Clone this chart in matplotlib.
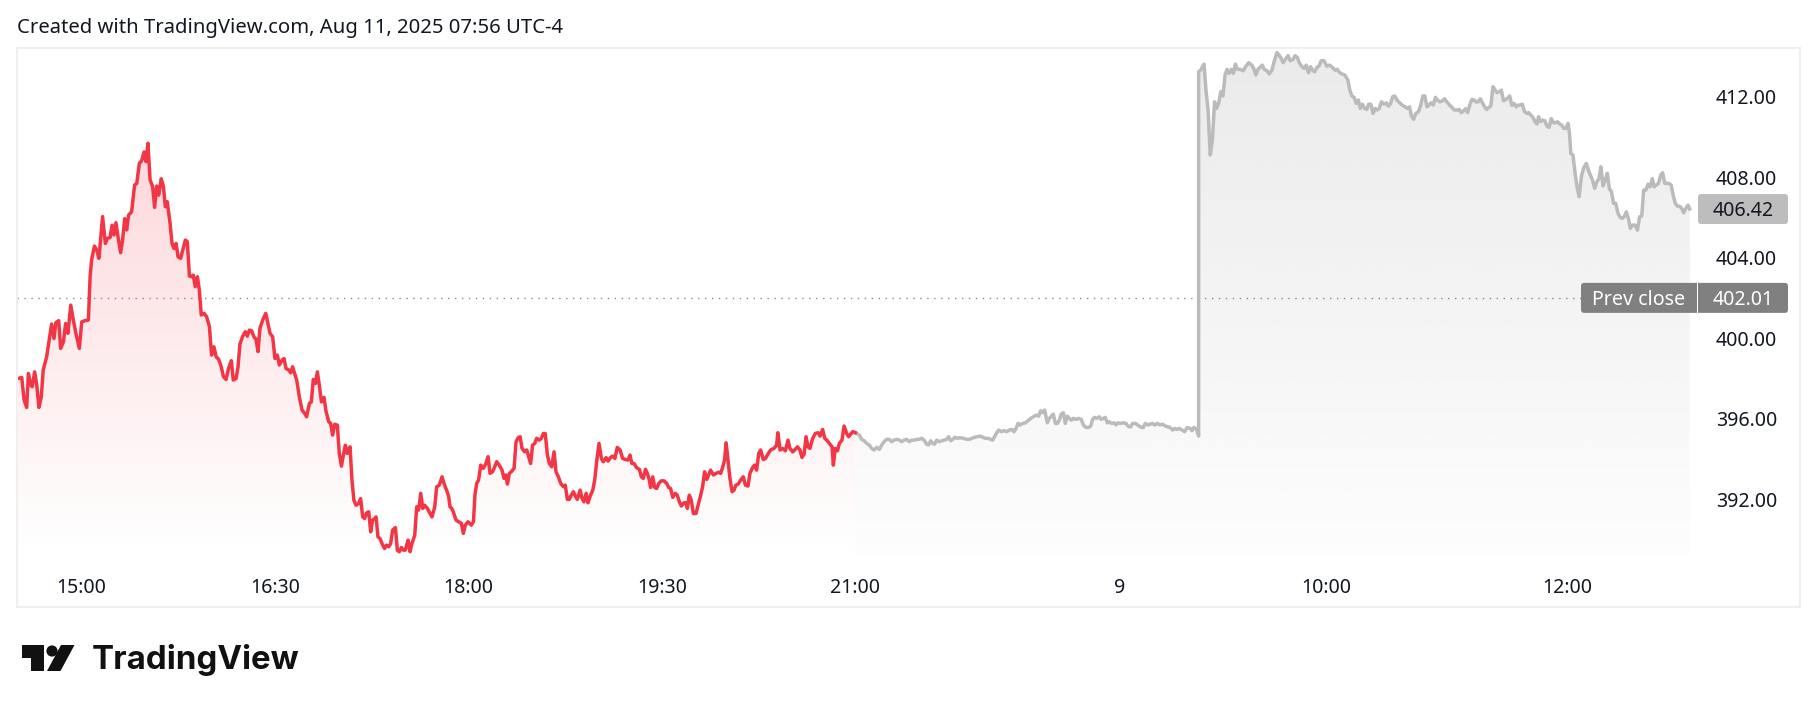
import numpy as np
import matplotlib
matplotlib.use('Agg')
import matplotlib.pyplot as plt
from matplotlib.patches import Rectangle, FancyBboxPatch, Circle, Polygon
from matplotlib.transforms import IdentityTransform

# ---- data (x = bar index, 1 bar ~ 1 minute) ----
red_bar = [
    0.6, 2.2, 3.3, 4.5, 5.3, 6.4, 7.1, 8.2, 9.1, 10.2, 11.3, 12.2, 13.8, 15.0, 16.1, 17.2,
    18.1, 19.4, 20.3, 21.6, 22.6, 23.7, 25.0, 26.2, 27.4, 29.0, 30.1, 31.6, 33.2, 34.0, 34.7,
    36.0, 37.1, 38.1, 39.8, 41.1, 42.0, 43.3, 44.2, 45.1, 46.0, 47.1, 48.2, 49.1, 50.1, 51.0,
    51.9, 53.3, 54.7, 55.7, 56.9, 58.0, 59.1, 60.0, 60.9, 61.9, 63.1, 64.0, 65.0, 65.9, 67.1,
    68.1, 69.0, 69.9, 71.2, 72.1, 73.0, 74.0, 74.9, 76.1, 77.1, 78.3, 79.2, 80.2, 81.2, 82.0,
    82.9, 83.9, 84.8, 85.7, 87.0, 88.2, 89.5, 90.5, 91.6, 92.6, 93.8, 95.0, 96.0, 97.2, 98.4,
    99.7, 100.6, 101.9, 102.8, 103.7, 105.0, 106.2, 107.1, 108.1, 109.1, 110.2, 111.2, 112.1,
    113.0, 114.3, 115.7, 116.7, 117.7, 118.9, 120.0, 121.1, 122.0, 123.3, 124.2, 125.1, 126.4,
    127.3, 128.2, 129.1, 130.1, 131.3, 132.6, 133.8, 134.7, 136.0, 136.9, 137.8, 138.8, 139.7,
    140.6, 141.6, 142.8, 143.7, 145.0, 145.9, 146.8, 147.8, 149.0, 149.9, 150.9, 151.8, 152.7,
    153.6, 154.9, 155.8, 156.7, 157.7, 158.9, 159.8, 160.8, 161.7, 162.6, 163.6, 164.5, 165.4,
    166.4, 167.0, 167.9, 168.8, 170.1, 171.0, 171.9, 172.9, 173.8, 174.7, 176.0, 176.9, 177.8,
    178.8, 179.7, 180.6, 181.9, 182.8, 183.7, 185.0, 185.9, 186.8, 187.8, 188.7, 189.6, 190.9,
    192.1, 193.0, 194.3, 195.2, 196.4, 197.7, 198.6, 199.8, 200.8, 201.4,
    202.2, 202.9, 204.2, 205.4, 206.7, 207.6, 208.5, 209.8, 211.3, 212.3, 213.0, 213.8, 214.7,
    215.7, 216.9, 218.1, 219.1, 220.0, 221.2, 222.2, 223.1, 224.3, 225.6, 226.5, 227.4, 228.1,
    229.0, 229.9, 231.2, 232.1, 233.2, 234.0, 234.9, 236.1, 237.1, 238.0, 238.9, 239.8, 240.8,
    241.7, 242.9, 243.9, 244.8, 245.7, 246.7, 247.6, 248.7, 249.8, 250.7, 251.8, 252.9, 254.1,
    255.0, 256.0, 256.9, 257.8, 258.8, 259.7, 260.6, 261.9, 262.8, 263.7, 264.7, 265.6, 266.5,
    267.8, 268.7, 269.6, 270.7, 271.8, 272.7, 274.0, 274.9, 276.1, 277.1, 278.1, 279.2, 280.5,
    281.7, 283.0, 284.2, 285.1, 286.0, 287.0, 288.2, 289.5, 290.4, 291.3, 292.3, 293.2, 294.1,
    294.7, 295.7, 296.6, 297.5, 298.5, 299.7, 300.9, 302.2, 303.1, 304.0, 305.0, 306.2, 307.1,
    308.1, 309.0, 310.2, 311.2, 311.8, 312.7, 313.6, 314.6, 315.8, 316.8, 318.0, 318.9, 319.8,
    320.8, 321.7, 322.6, 323.9, 325.1, 326.4, 327.3, 328.2, 329.1, 329.8, 330.7, 331.6, 332.6,
    333.5, 334.4, 335.4, 336.6, 337.8, 338.8, 340.0, 340.9, 342.2, 343.1, 344.0, 345.0, 345.9,
    347.1, 348.1, 349.3, 350.5, 352.1, 353.3, 353.9, 354.9, 356.1, 357.4, 358.6, 359.5, 360.8,
    361.7, 363.0, 364.2, 365.1, 366.1, 367.0, 367.9, 368.8, 370.1, 371.3, 372.6, 373.5, 374.7,
    375.7, 376.9, 378.1, 379.1, 379.7, 380.6, 381.6, 382.5, 383.7, 384.7, 385.9, 386.8, 387.8,
    388.7, 389.9]
red_price = [
    398.01, 398.06, 396.94, 396.57, 398.26, 397.68, 397.60, 398.34, 397.76, 396.57, 397.10,
    398.43, 399.09, 399.92, 400.71, 399.99, 400.78, 400.88, 399.50, 399.83, 400.74, 400.25,
    401.65, 400.91, 400.25, 399.50, 400.82, 400.88, 400.91, 403.06, 403.89, 404.58, 404.38,
    403.97, 406.04, 404.71, 404.96, 405.01, 405.62, 405.13, 405.74, 404.96, 404.25, 404.88,
    405.94, 405.38, 406.12, 406.28, 407.61, 407.69, 408.68, 408.82, 409.25, 408.77, 409.68,
    407.86, 407.53, 406.50, 407.56, 407.11, 407.92, 407.53, 406.53, 406.78, 405.70, 404.71,
    404.46, 404.71, 404.05, 403.97, 404.38, 404.88, 404.80, 403.09, 403.06, 403.14, 402.56,
    403.06, 402.40, 401.16, 401.24, 401.07, 400.58, 399.17, 399.58, 399.09, 398.96, 398.59,
    398.10, 397.96, 398.51, 398.89, 397.93, 398.01, 398.59, 399.72, 400.11, 400.33, 400.11,
    400.41, 400.38, 400.08, 399.95, 399.34, 400.50, 400.91, 401.24, 400.74, 400.25, 400.08,
    399.00, 399.17, 398.68, 398.92, 399.00, 398.51, 398.43, 398.29, 398.59, 398.26, 397.93,
    397.10, 396.44, 396.28, 396.11, 396.77, 396.85, 397.96, 397.76, 398.34, 397.68, 396.85,
    397.07, 396.40, 395.86, 395.78, 395.20, 395.74, 395.69, 394.29, 393.66, 394.20, 394.70,
    394.29, 394.62, 392.96, 391.97, 391.72, 391.81, 392.05, 391.14, 391.06, 391.34, 391.39,
    390.40, 390.98, 391.06, 391.14, 390.15, 390.07, 389.74, 389.57, 389.74, 389.66, 389.82,
    390.48, 390.61, 389.49, 389.41, 389.62, 389.49, 389.49, 389.99, 389.41, 389.82, 390.23,
    391.64, 391.48, 392.31, 391.56, 391.72, 391.56, 391.31, 391.14, 391.64, 392.63, 392.72,
    393.13, 392.80, 392.47, 392.14, 391.64,
    391.56, 391.40, 390.98, 390.90, 390.82, 390.32, 390.73, 390.90, 390.73, 390.90, 392.22,
    392.80, 392.97, 393.71, 393.55, 393.79, 394.13, 393.30, 393.38, 393.63, 393.88, 393.71,
    393.46, 393.05, 393.22, 392.77, 393.30, 393.38, 393.55, 394.87, 395.08, 395.12, 394.54,
    394.37, 394.46, 394.13, 393.79, 394.70, 394.79, 395.04, 394.95, 395.04, 395.28, 395.28,
    394.21, 393.79, 393.63, 394.37, 393.38, 393.13, 392.80, 392.64, 392.72, 392.01, 392.01,
    392.22, 392.39, 392.17, 392.01, 392.47, 392.06, 391.89, 392.31, 391.84, 392.14, 392.47,
    392.97, 393.88, 394.79, 394.04, 393.88, 394.08, 393.91, 394.09, 394.16, 394.04, 394.59,
    394.46, 394.04, 393.99, 393.96, 394.21, 393.79, 393.79, 393.58, 393.50, 393.13, 393.05,
    393.50, 393.30, 392.97, 392.60, 393.13, 392.60, 392.55, 392.80, 392.93, 392.93, 392.80,
    392.60, 392.55, 392.11, 392.31, 392.22, 391.89, 391.68, 391.84, 391.84, 391.56, 392.22,
    391.97, 391.31, 391.31, 391.73, 392.22, 392.64, 393.38, 393.00, 393.22, 393.46, 393.22,
    393.30, 393.36, 393.30, 393.60, 393.96, 394.82, 393.96, 393.05, 392.39, 392.47, 392.72,
    392.77, 392.97, 393.13, 392.72, 392.67, 393.30, 393.60, 393.71, 393.46, 394.29, 394.46,
    393.99, 394.04, 394.26, 394.46, 394.54, 394.70, 395.32, 394.46, 394.54, 394.42, 394.95,
    394.54, 394.37, 394.46, 394.62, 394.46, 394.09, 394.26, 395.12, 394.62, 394.54, 395.04,
    395.28, 395.32, 395.15, 395.48, 395.04, 394.92, 394.75, 394.62, 393.71, 394.54, 394.42,
    394.79, 394.95, 395.65, 395.28, 395.12, 395.25, 395.37, 395.32]

gray_bar = [
    389.9, 391.8, 392.9, 394.0, 395.2, 396.4, 397.5, 398.6, 399.9, 401.1, 402.2, 403.3, 404.5,
    405.7, 406.8, 407.9, 409.2, 410.4, 411.5, 412.6, 413.8, 415.0, 416.1, 417.2, 418.5, 419.7,
    420.8, 421.9, 423.1, 424.0, 425.0, 425.9, 426.8, 427.8, 429.0, 430.1, 431.2, 432.4, 433.3,
    434.3, 435.2, 436.3, 437.4, 438.6, 440.2, 441.7, 443.0, 444.2, 445.4, 446.7, 447.9, 449.2,
    450.4, 451.6, 452.9, 453.8, 454.7, 455.7, 456.6, 457.8, 459.1, 460.3, 461.6, 462.8, 463.7,
    464.7, 465.6, 466.5, 467.8, 469.0, 470.2, 471.5, 472.7, 474.0, 475.2, 476.1, 477.1, 478.0,
    478.6, 479.2, 480.2, 481.1, 482.0, 483.0, 483.9, 484.8, 485.7, 486.7, 487.6, 488.5, 489.5,
    490.4, 491.3, 492.6, 493.8, 495.0, 496.0, 497.2, 498.5, 499.4, 500.3, 501.2, 502.2, 503.4,
    504.3, 505.3, 506.2, 507.1, 508.1, 509.0, 510.2, 511.2, 512.1, 513.3, 514.6, 515.8, 517.1,
    518.0, 518.9, 520.2, 521.1, 522.0, 523.0, 523.9, 524.8, 526.1, 527.0, 528.2, 529.2, 530.4,
    531.6, 532.9, 534.1, 535.4, 536.3, 537.5, 538.5, 539.4, 540.6, 541.9, 543.1, 544.3, 545.6,
    546.5, 547.4, 548.7, 549.6,
    549.6, 550.8, 552.1, 553.0, 554.0, 555.0, 556.0, 557.0, 557.9, 558.9, 559.9, 560.9, 561.9,
    562.8, 563.8, 564.8, 565.8, 566.7, 567.7, 569.0, 570.3, 571.6, 572.9, 574.3, 575.2, 576.2,
    577.2, 578.2, 579.2, 580.1, 581.4, 582.4, 583.7, 584.7, 586.0, 587.0, 588.0, 588.9, 590.2,
    591.2, 592.2, 593.5, 594.5, 595.5, 596.4, 597.7, 598.7, 599.7, 600.7, 601.7, 602.6, 603.6,
    604.6, 605.6, 606.6, 607.9, 609.2, 610.5, 611.8, 613.1, 614.1, 615.0, 616.3, 617.6, 619.0,
    619.9, 620.9, 621.9, 622.9, 623.9, 624.8, 625.8, 626.8, 627.8, 628.7, 629.7, 630.7, 631.7,
    632.7, 633.6, 634.6, 635.9, 636.9, 637.9, 638.9, 639.8, 640.8, 641.8, 643.1, 644.4, 645.7,
    646.7, 647.7, 648.6, 649.6, 650.6, 651.9, 652.9, 653.9, 654.8, 655.8, 656.8, 657.8, 658.8,
    659.7, 660.7, 661.7, 663.0, 664.0, 665.0, 666.3, 667.2, 668.5, 669.9, 670.8, 671.8, 672.8,
    673.8, 674.7, 675.7, 676.7, 677.7, 678.7, 679.6, 680.6, 681.6, 682.6, 683.6, 684.5, 685.5,
    686.5, 687.5, 688.4, 689.4, 690.4, 691.4, 692.4, 693.3, 694.3, 695.3, 696.3, 697.3, 698.2,
    699.2, 700.2, 701.2, 702.2, 703.1, 704.1, 705.1, 706.1, 707.0, 707.7, 708.7, 709.7, 710.6,
    711.6, 712.6, 713.6, 714.6, 715.5, 716.5, 717.5, 718.5, 719.4, 720.4, 721.4, 722.1, 722.7,
    723.7, 724.7, 725.6, 726.6, 727.6, 728.6, 729.9, 730.9, 731.8, 732.8, 733.8, 734.8, 735.8,
    736.7, 737.7, 738.7, 739.7, 740.6, 741.6, 742.6, 743.6, 744.6, 745.5, 746.5, 747.5, 748.5,
    749.5, 750.4, 751.4, 752.7, 753.7, 754.7, 755.7, 756.6, 757.6, 758.6, 759.6, 760.6, 761.5,
    762.5, 763.5, 764.5, 765.4, 766.4, 767.4, 768.4, 769.4, 770.3, 771.3, 772.3, 773.3, 774.3,
    775.2, 776.2, 777.2, 778.0]
gray_price = [
    395.32, 395.20, 394.99, 394.92, 394.79, 394.71, 394.54, 394.46, 394.59, 394.49, 394.71,
    394.87, 394.99, 394.99, 394.87, 394.95, 394.99, 394.95, 394.87, 394.95, 394.99, 394.87,
    394.95, 394.95, 394.99, 394.99, 395.04, 394.95, 394.75, 394.71, 394.92, 394.79, 394.75,
    394.95, 394.87, 394.92, 394.95, 394.99, 395.12, 394.92, 394.99, 395.09, 395.04, 395.07,
    395.04, 394.99, 394.99, 395.04, 395.09, 395.12, 395.15, 395.09, 395.04, 395.04, 394.99,
    394.95, 395.12, 395.32, 395.45, 395.37, 395.42, 395.37, 395.45, 395.48, 395.37, 395.53,
    395.78, 395.70, 395.78, 395.81, 395.91, 396.03, 396.11, 396.19, 396.14, 396.41, 396.31,
    396.44, 396.14, 395.81, 396.03, 396.14, 396.24, 395.78, 395.78, 395.94, 396.24, 396.31,
    395.78, 396.14, 396.03, 395.94, 396.03, 395.98, 396.03, 395.98, 395.70, 395.58, 395.58,
    395.65, 395.98, 396.08, 396.03, 396.11, 395.98, 396.03, 396.08, 395.81, 395.86, 395.78,
    395.81, 395.71, 395.81, 395.78, 395.81, 395.78, 395.61, 395.61, 395.78, 395.78, 395.71,
    395.65, 395.58, 395.58, 395.78, 395.70, 395.74, 395.78, 395.70, 395.78, 395.71, 395.74,
    395.65, 395.61, 395.58, 395.45, 395.53, 395.48, 395.53, 395.45, 395.37, 395.58, 395.53,
    395.42, 395.58, 395.48, 395.15,
    413.23, 413.35, 413.61, 412.32, 411.33, 409.10, 409.84, 411.74, 411.41, 411.66, 412.24,
    412.03, 413.07, 413.35, 413.15, 413.35, 413.15, 413.61, 413.35, 413.35, 413.28, 413.51,
    413.68, 413.56, 413.40, 413.07, 413.35, 413.45, 413.56, 413.35, 413.28, 413.12, 413.31,
    413.73, 414.18, 414.06, 413.89, 413.68, 413.89, 414.03, 413.78, 413.84, 414.03, 413.94,
    413.68, 413.48, 413.40, 413.56, 413.18, 413.48, 413.31, 413.23, 413.45, 413.51, 413.78,
    413.78, 413.51, 413.56, 413.45, 413.31, 413.35, 413.21, 413.12, 413.07, 412.82, 412.32,
    412.03, 411.96, 411.66, 411.83, 411.41, 411.62, 411.41, 411.36, 411.62, 411.62, 411.16,
    411.41, 411.33, 411.41, 411.74, 411.62, 411.69, 411.52, 411.66, 411.99, 412.03, 411.83,
    411.69, 411.56, 411.49, 411.41, 411.49, 411.03, 410.87, 411.16, 411.25, 411.58, 412.03,
    412.03, 411.49, 411.58, 411.69, 411.58, 411.96, 411.83, 411.74, 411.79, 411.89, 411.74,
    411.58, 411.49, 411.33, 411.33, 411.36, 411.20, 411.29, 411.40, 411.20, 411.58, 411.86,
    411.83, 411.73, 411.74, 411.89, 411.69, 411.49, 411.36, 411.46, 411.53, 412.49, 412.32,
    412.19, 412.24, 412.32, 411.79, 411.86, 411.91, 412.03, 411.56, 411.66, 411.49, 411.58,
    411.58, 411.62, 411.25, 411.16, 411.20, 411.08, 410.97, 410.75, 410.64, 411.00, 410.75,
    410.83, 410.80, 410.54, 410.47, 410.91, 410.70, 410.70, 410.75, 410.64, 410.58, 410.42,
    410.42, 410.67, 410.17, 409.18, 409.10, 408.19, 407.52, 407.03, 408.02, 408.43, 408.68,
    408.35, 408.10, 407.85, 407.44, 407.77, 407.93, 408.52, 407.56, 407.85, 408.19, 407.44,
    407.28, 406.70, 406.70, 406.23, 406.03, 405.95, 406.03, 406.28, 405.95, 405.46, 405.62,
    405.62, 405.37, 406.03, 406.07, 407.36, 407.36, 407.65, 407.52, 407.93, 407.52, 407.61,
    407.69, 408.10, 408.22, 407.69, 407.69, 407.69, 407.61, 407.11, 406.70, 406.56, 406.56,
    406.45, 406.23, 406.45, 406.61, 406.42]

last_price = 406.42
prev_close = 402.01
price_ticks = [392, 396, 400, 404, 408, 412]
time_ticks = [30, 120, 210, 300, 390, 513, 609, 721]
time_labels = ['15:00', '16:30', '18:00', '19:30', '21:00', '9', '10:00', '12:00']
title_text = 'Created with TradingView.com, Aug 11, 2025 07:56 UTC-4'

W, H = 1818, 713
plt.rcParams['font.family'] = ['Noto Sans', 'DejaVu Sans']
txt_color = '#131722'
fs = 14.1

fig = plt.figure(figsize=(W / 100, H / 100), dpi=100)
fig.patch.set_facecolor('white')

def fx(x):
    return x / W

def fy(y):
    return 1 - y / H

# chart pane (pixel box 17..1697 x 49..556)
ax = fig.add_axes([fx(17), fy(556), (1697 - 17) / W, (556 - 49) / H])
ax.set_facecolor('none')
y_lo, y_hi = 389.2, 414.36
x_lo, x_hi = 0, 781.4


def area_gradient(x, y, rgb, a_top, a_bot):
    poly = ax.fill_between(x, y, y_lo, facecolor='none', edgecolor='none')
    n = 256
    img = np.zeros((n, 1, 4))
    img[:, 0, :3] = rgb
    img[:, 0, 3] = np.linspace(a_top, a_bot, n)
    im = ax.imshow(img, extent=(x[0], x[-1], y_lo, y_hi), origin='upper',
                   aspect='auto', interpolation='bilinear', zorder=1)
    im.set_clip_path(poly.get_paths()[0], transform=ax.transData)


rb, rp = np.array(red_bar), np.array(red_price)
gb, gp = np.array(gray_bar), np.array(gray_price)

area_gradient(rb, rp, (242 / 255, 54 / 255, 69 / 255), 0.24, 0.0)
area_gradient(gb, gp, (0.6, 0.6, 0.6), 0.2, 0.02)

ax.axhline(prev_close, color='#8a8a8a', lw=1.0, ls=(0, (1, 4)), zorder=2)
ax.plot(gb, gp, color='#BBBBBB', lw=2.5, solid_joinstyle='round', zorder=3)
ax.plot(rb, rp, color='#F23645', lw=2.5, solid_joinstyle='round', zorder=4)

ax.set_xlim(x_lo, x_hi)
ax.set_ylim(y_lo, y_hi)

ax.set_xticks(time_ticks)
ax.set_xticklabels(time_labels)
ax.yaxis.tick_right()
ax.set_yticks(price_ticks)
ax.set_yticklabels([f'{v:.2f}' for v in price_ticks])
ax.tick_params(axis='both', length=0, labelsize=fs, labelcolor=txt_color)
ax.tick_params(axis='x', pad=15.5)
ax.tick_params(axis='y', pad=13.5)
ax.get_xticklabels()[5].set_fontweight('bold')
for s in ax.spines.values():
    s.set_visible(False)

# outer frame
fig.add_artist(Rectangle((fx(17), fy(607)), (1800 - 17) / W, (607 - 48) / H,
                         transform=fig.transFigure, fill=False,
                         edgecolor='#EFEFEF', lw=1.5))

# price label boxes (display pixel coordinates)
ident = IdentityTransform()
y_last = ax.transData.transform((0, last_price))[1]
y_prev = ax.transData.transform((0, prev_close))[1]

fig.add_artist(FancyBboxPatch((1698, y_last - 15), 90, 30,
                              boxstyle='round,pad=0,rounding_size=3',
                              transform=ident, facecolor='#BDBDBD', edgecolor='none'))
fig.text(1743 / W, (y_last - 7) / H, f'{last_price:.2f}', ha='center', va='baseline',
         fontsize=fs, color=txt_color)

fig.add_artist(FancyBboxPatch((1581, y_prev - 15), 207, 30,
                              boxstyle='round,pad=0,rounding_size=3',
                              transform=ident, facecolor='#808080', edgecolor='none'))
fig.add_artist(Rectangle((1697, y_prev - 15), 1, 30, transform=ident,
                         facecolor='white', edgecolor='none'))
fig.text(1639 / W, (y_prev - 7) / H, 'Prev close', ha='center', va='baseline',
         fontsize=fs, color='white')
fig.text(1743 / W, (y_prev - 7) / H, f'{prev_close:.2f}', ha='center', va='baseline',
         fontsize=fs, color='white')

# title
fig.text(fx(17), fy(33), title_text, ha='left', va='baseline', fontsize=14.6, color=txt_color)

# TradingView logo
logo_c = '#111111'
fig.add_artist(Polygon([(21.5, H - 645), (44, H - 645), (44, H - 671), (31, H - 671),
                        (31, H - 658), (21.5, H - 658)], closed=True,
                       transform=ident, facecolor=logo_c, edgecolor='none'))
fig.add_artist(Circle((52, H - 651), 5.6, transform=ident, facecolor=logo_c, edgecolor='none'))
fig.add_artist(Polygon([(61, H - 645), (74.5, H - 645), (60.5, H - 671), (47, H - 671)],
                       closed=True, transform=ident, facecolor=logo_c, edgecolor='none'))
fig.text(fx(91.5), fy(669), 'TradingView', ha='left', va='baseline', fontsize=23.8,
         fontweight='bold', family=['Inter', 'DejaVu Sans'], color=logo_c)

fig.savefig('out.png', dpi=100, facecolor='white')
